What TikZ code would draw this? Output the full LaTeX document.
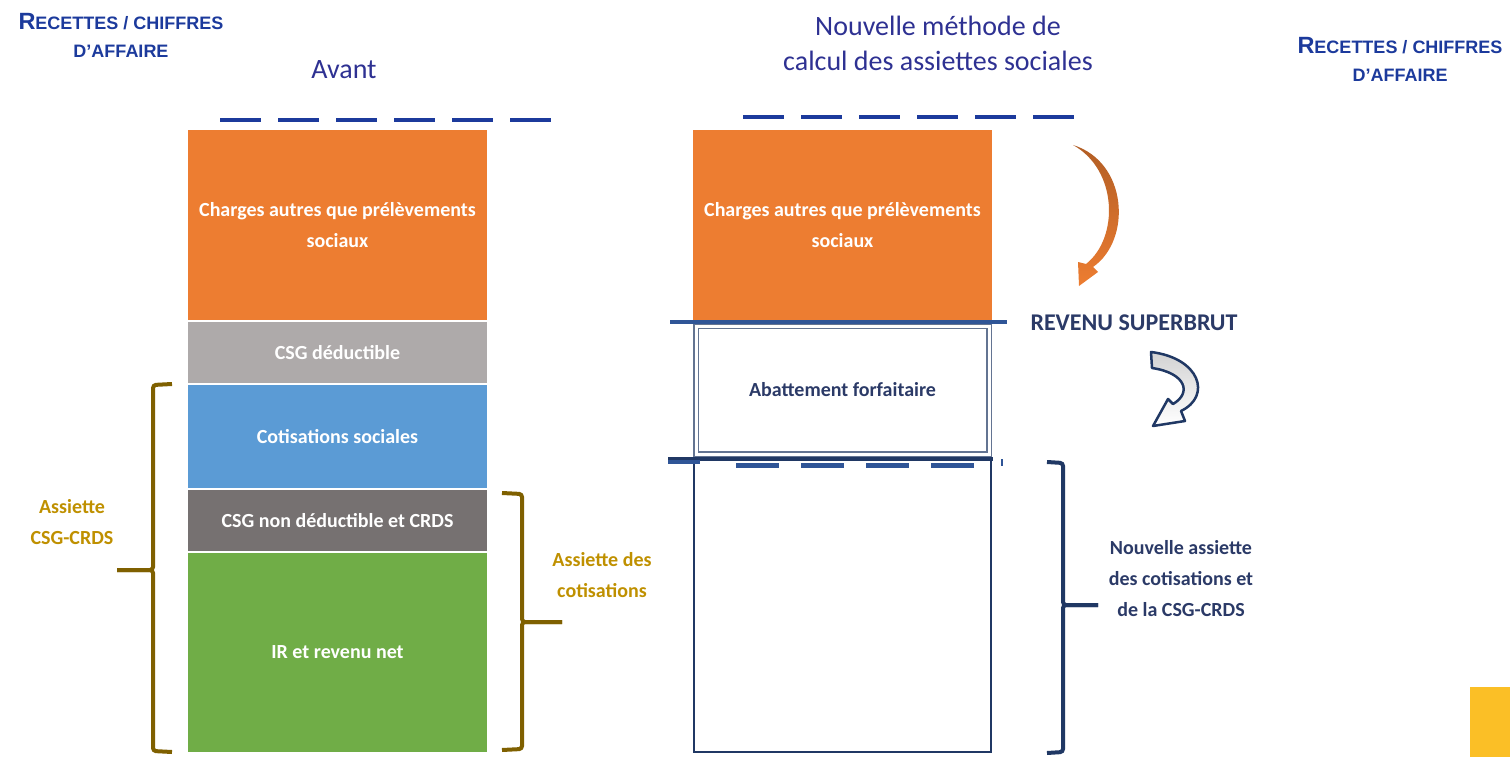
\documentclass[tikz,border=0pt]{standalone}
\usepackage{fontspec}
\setmainfont{Carlito}
\newfontfamily\arialfont{Liberation Sans}
\usetikzlibrary{arrows.meta,positioning}
\definecolor{orangeC}{HTML}{ED7D31}
\definecolor{grisC}{HTML}{AEAAAA}
\definecolor{bleuC}{HTML}{5B9BD5}
\definecolor{grisF}{HTML}{767171}
\definecolor{vertC}{HTML}{70AD47}
\definecolor{navy}{HTML}{203864}
\definecolor{navyT}{HTML}{2B3A67}
\definecolor{bleuL}{HTML}{2F5597}
\definecolor{bleuR}{HTML}{1C3A9C}
\definecolor{titre}{HTML}{2E3192}
\definecolor{olive}{HTML}{7F6000}
\definecolor{dore}{HTML}{BF9000}
\definecolor{jaune}{HTML}{FBBF26}
\newcommand{\grandR}{\fontsize{23.5}{28}\selectfont}

\begin{document}
\begin{tikzpicture}[x=1pt,y=-1pt,
    bloc/.style={minimum width=299pt,inner sep=0pt,outer sep=0pt,text=white,align=center,
      font=\fontsize{20}{31}\selectfont\bfseries},
    lbl/.style={align=center,font=\fontsize{20}{31}\selectfont\bfseries},
    rec/.style={align=center,text=bleuR,inner sep=0pt,font=\arialfont\bfseries\fontsize{18}{28}\selectfont},
    tiret/.style={bleuR,line width=4.5pt,dash pattern=on 41pt off 17pt},
    acc/.style={line width=4pt,rounded corners=3pt}]
  \useasboundingbox (0,0) rectangle (1510,757);

  % titres
  \node[rec] (recG) at (121,35) {{\grandR R}ECETTES / CHIFFRES\\D’AFFAIRE};
  \node[rec] (recD) at (1400,59) {{\grandR R}ECETTES / CHIFFRES\\D’AFFAIRE};
  \node[titre,font=\fontsize{28}{34}\selectfont] (avant) at (344,70) {Avant};
  \node[titre,align=center,font=\fontsize{28}{35}\selectfont] (nouv) at (938,43) {Nouvelle méthode de\\calcul des assiettes sociales};

  % avant
  \draw[tiret] (220,120) -- (552,120);
  \node[bloc,fill=orangeC,minimum height=190pt] (chA) at (337.5,225) {Charges autres que prélèvements\\sociaux};
  \node[bloc,fill=grisC,minimum height=61pt] (csgd) at (337.5,352.5) {CSG déductible};
  \node[bloc,fill=bleuC,minimum height=103pt] (cotis) at (337.5,436.5) {Cotisations sociales};
  \node[bloc,fill=grisF,minimum height=61pt] (csgn) at (337.5,520.5) {CSG non déductible et CRDS};
  \node[bloc,fill=vertC,minimum height=199pt] (ir) at (337.5,652.5) {IR et revenu net};

  \draw[acc,olive] (172,384) -- (153,385) -- (153,570) -- (117,570);
  \draw[acc,olive] (117,570) -- (153,570) -- (153,751) -- (172,752);
  \node[lbl,dore] (assG) at (72,522) {Assiette\\CSG-CRDS};
  \draw[acc,olive] (502,493) -- (522,494) -- (522,622) -- (562,622);
  \draw[acc,olive] (562,622) -- (522,622) -- (522,749) -- (502,750);
  \node[lbl,dore] (assC) at (602,575) {Assiette des\\cotisations};

  % nouvelle methode
  \draw[tiret] (743,117) -- (1075,117);
  \node[bloc,fill=orangeC,minimum height=190pt] (chB) at (842.5,225) {Charges autres que prélèvements\\sociaux};
  \node[bloc,text=navyT,draw=navy!70,double=white,double distance=3pt,line width=1.2pt,
    minimum width=293pt,minimum height=128pt] (abat) at (842.5,390) {Abattement forfaitaire};
  \node[bloc,draw=navy,line width=2.5pt,minimum width=297pt,minimum height=292pt] (base) at (842.5,606) {};
  \draw[bleuL,line width=4pt] (670,322) -- (1007,322);
  \draw[navy,line width=4pt] (668,459) -- (993,459);
  \draw[bleuL,line width=5pt,dash pattern=on 43pt off 22pt] (736,465) -- (986,465);
  \draw[bleuL,line width=4pt] (668,462) -- (700,462);
  \draw[bleuL,line width=1.5pt] (1002,459) -- (1002,466);

  \node[navyT,font=\fontsize{24}{28}\selectfont\bfseries] (sbrut) at (1134,323) {REVENU SUPERBRUT};

  % fleches
  \shade[top color=orangeC!75!black,bottom color=orangeC]
    (1073,145) .. controls (1128,162) and (1132,240) .. (1093,267)
    -- (1098,272) -- (1079,286) -- (1078,262) -- (1086,264)
    .. controls (1119,238) and (1118,170) .. (1073,145) -- cycle;
  \draw[navy,line width=2.5pt,line join=round,top color=gray!35,bottom color=white]
    (1151,352) .. controls (1200,358) and (1212,396) .. (1181,411)
    -- (1185,421) -- (1153,426) -- (1168,399) -- (1173,404)
    .. controls (1192,393) and (1186,373) .. (1152,368) -- cycle;

  \draw[acc,navy] (1047,462) -- (1063,463) -- (1063,605) -- (1098,605);
  \draw[acc,navy] (1098,605) -- (1063,605) -- (1063,752) -- (1047,753);
  \node[lbl,navyT] (assN) at (1181,579) {Nouvelle assiette\\des cotisations et\\de la CSG-CRDS};

  \fill[jaune] (1470,687) rectangle (1510,757);
\end{tikzpicture}
\end{document}
